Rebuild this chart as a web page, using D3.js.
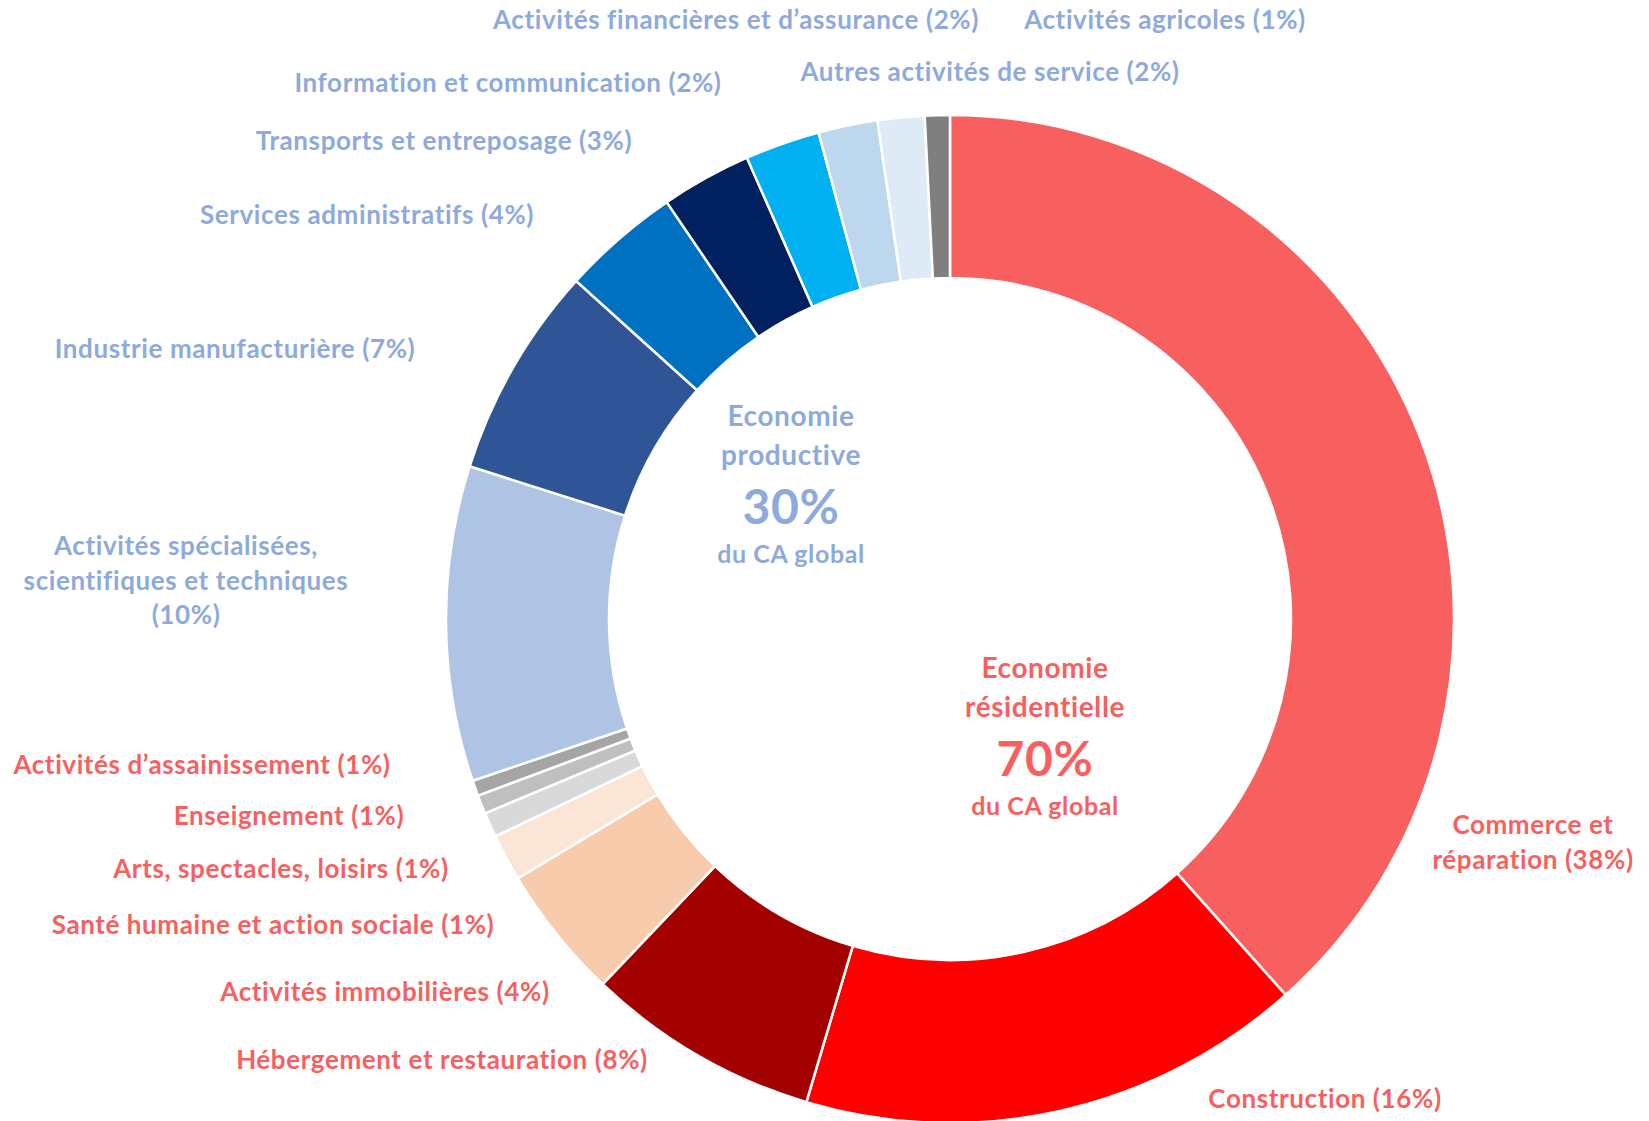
<!DOCTYPE html>
<meta charset="utf-8">
<style>

body {
  margin: 0;
  background: #fff;
}

text {
  font-family: Lato, "Open Sans", sans-serif;
  font-weight: bold;
  letter-spacing: 0.6px;
}

.slice {
  stroke: #fff;
  stroke-width: 2.5px;
}

</style>
<svg width="1649" height="1121"></svg>
<script src="https://cdn.jsdelivr.net/npm/d3@7"></script>
<script>

// sectors, clockwise from 12 o'clock
var sectors = [
  "Commerce et réparation",
  "Construction",
  "Hébergement et restauration",
  "Activités immobilières",
  "Santé humaine et action sociale",
  "Arts, spectacles, loisirs",
  "Enseignement",
  "Activités d’assainissement",
  "Activités spécialisées, scientifiques et techniques",
  "Industrie manufacturière",
  "Services administratifs",
  "Transports et entreposage",
  "Information et communication",
  "Activités financières et d’assurance",
  "Autres activités de service",
  "Activités agricoles"
];

// share of turnover (%)
var shares = [38.4, 16.2, 7.5, 4.3, 1.5, 0.8, 0.6, 0.5,
              10.1, 6.8, 3.8, 2.9, 2.4, 1.9, 1.5, 0.8];

// rounded percentages printed in the labels
var shown = [38, 16, 8, 4, 1, 1, 1, 1,
             10, 7, 4, 3, 2, 2, 2, 1];

// economy group of each sector
var groups = ["res", "res", "res", "res", "res", "res", "res", "res",
              "prod", "prod", "prod", "prod", "prod", "prod", "prod", "prod"];

var sliceColors = ["#f86060", "#ff0000", "#a30000", "#f8cbad", "#fbe5d6",
                   "#d9d9d9", "#bfbfbf", "#a5a5a5", "#afc3e5", "#2f5597",
                   "#0070c0", "#002060", "#00b0f0", "#bdd7ee", "#deebf7",
                   "#7f7f7f"];

var groupNames = ["Economie productive", "Economie résidentielle"];
var groupTotals = [30, 70];

var textColor = {prod: "#8eaadc", res: "#f95f5f"};

// label layout (manual placement as in the original) : [x, baseline, lines]
var labelLayout = [
  [1533, 834, ["Commerce et", "réparation (38%)"]],
  [1325, 1108],
  [442, 1069],
  [385, 1001],
  [273, 934],
  [281, 878],
  [289, 825],
  [202, 774],
  [186, 555, ["Activités spécialisées,", "scientifiques et techniques", "(10%)"]],
  [235, 358],
  [367, 224],
  [444, 150],
  [508, 92],
  [736, 29],
  [990, 81],
  [1165, 29]
];

var svg = d3.select("svg"),
    width = +svg.attr("width"),
    height = +svg.attr("height"),
    cx = 950,
    cy = 619,
    outerR = 504,
    innerR = 341;

var pie = d3.pie()
    .sort(null)
    .value(function(d) { return d; });

var arc = d3.arc()
    .innerRadius(innerR)
    .outerRadius(outerR);

var ring = svg.append("g")
    .attr("transform", "translate(" + cx + "," + cy + ")");

ring.selectAll(".slice")
    .data(pie(shares))
  .enter().append("path")
    .attr("class", "slice")
    .attr("fill", function(d, i) { return sliceColors[i]; })
    .attr("d", arc);

// sector labels
var labels = svg.append("g")
    .attr("class", "labels")
  .selectAll("text")
    .data(sectors)
  .enter().append("text")
    .attr("text-anchor", "middle")
    .attr("font-size", 26)
    .attr("fill", function(d, i) { return textColor[groups[i]]; })
    .attr("x", function(d, i) { return labelLayout[i][0]; })
    .attr("y", function(d, i) { return labelLayout[i][1]; });

labels.each(function(d, i) {
  var t = d3.select(this),
      lines = labelLayout[i][2] || [d + " (" + shown[i] + "%)"];
  lines.forEach(function(line, j) {
    t.append("tspan")
        .attr("x", labelLayout[i][0])
        .attr("dy", j ? 34.5 : 0)
        .text(line);
  });
});

// group totals in the hole
var centerText = [
  {x: 791, y: 426, key: "prod", idx: 0},
  {x: 1045, y: 678, key: "res", idx: 1}
];

centerText.forEach(function(c) {
  var words = groupNames[c.idx].split(" "),
      g = svg.append("g")
        .attr("fill", textColor[c.key])
        .attr("text-anchor", "middle");

  g.append("text")
      .attr("x", c.x).attr("y", c.y)
      .attr("font-size", 28)
      .text(words[0]);
  g.append("text")
      .attr("x", c.x).attr("y", c.y + 39)
      .attr("font-size", 28)
      .text(words[1]);
  g.append("text")
      .attr("x", c.x).attr("y", c.y + 98)
      .attr("font-size", 48)
      .text(groupTotals[c.idx] + "%");
  g.append("text")
      .attr("x", c.x).attr("y", c.y + 137)
      .attr("font-size", 25)
      .text("du CA global");
});

</script>
